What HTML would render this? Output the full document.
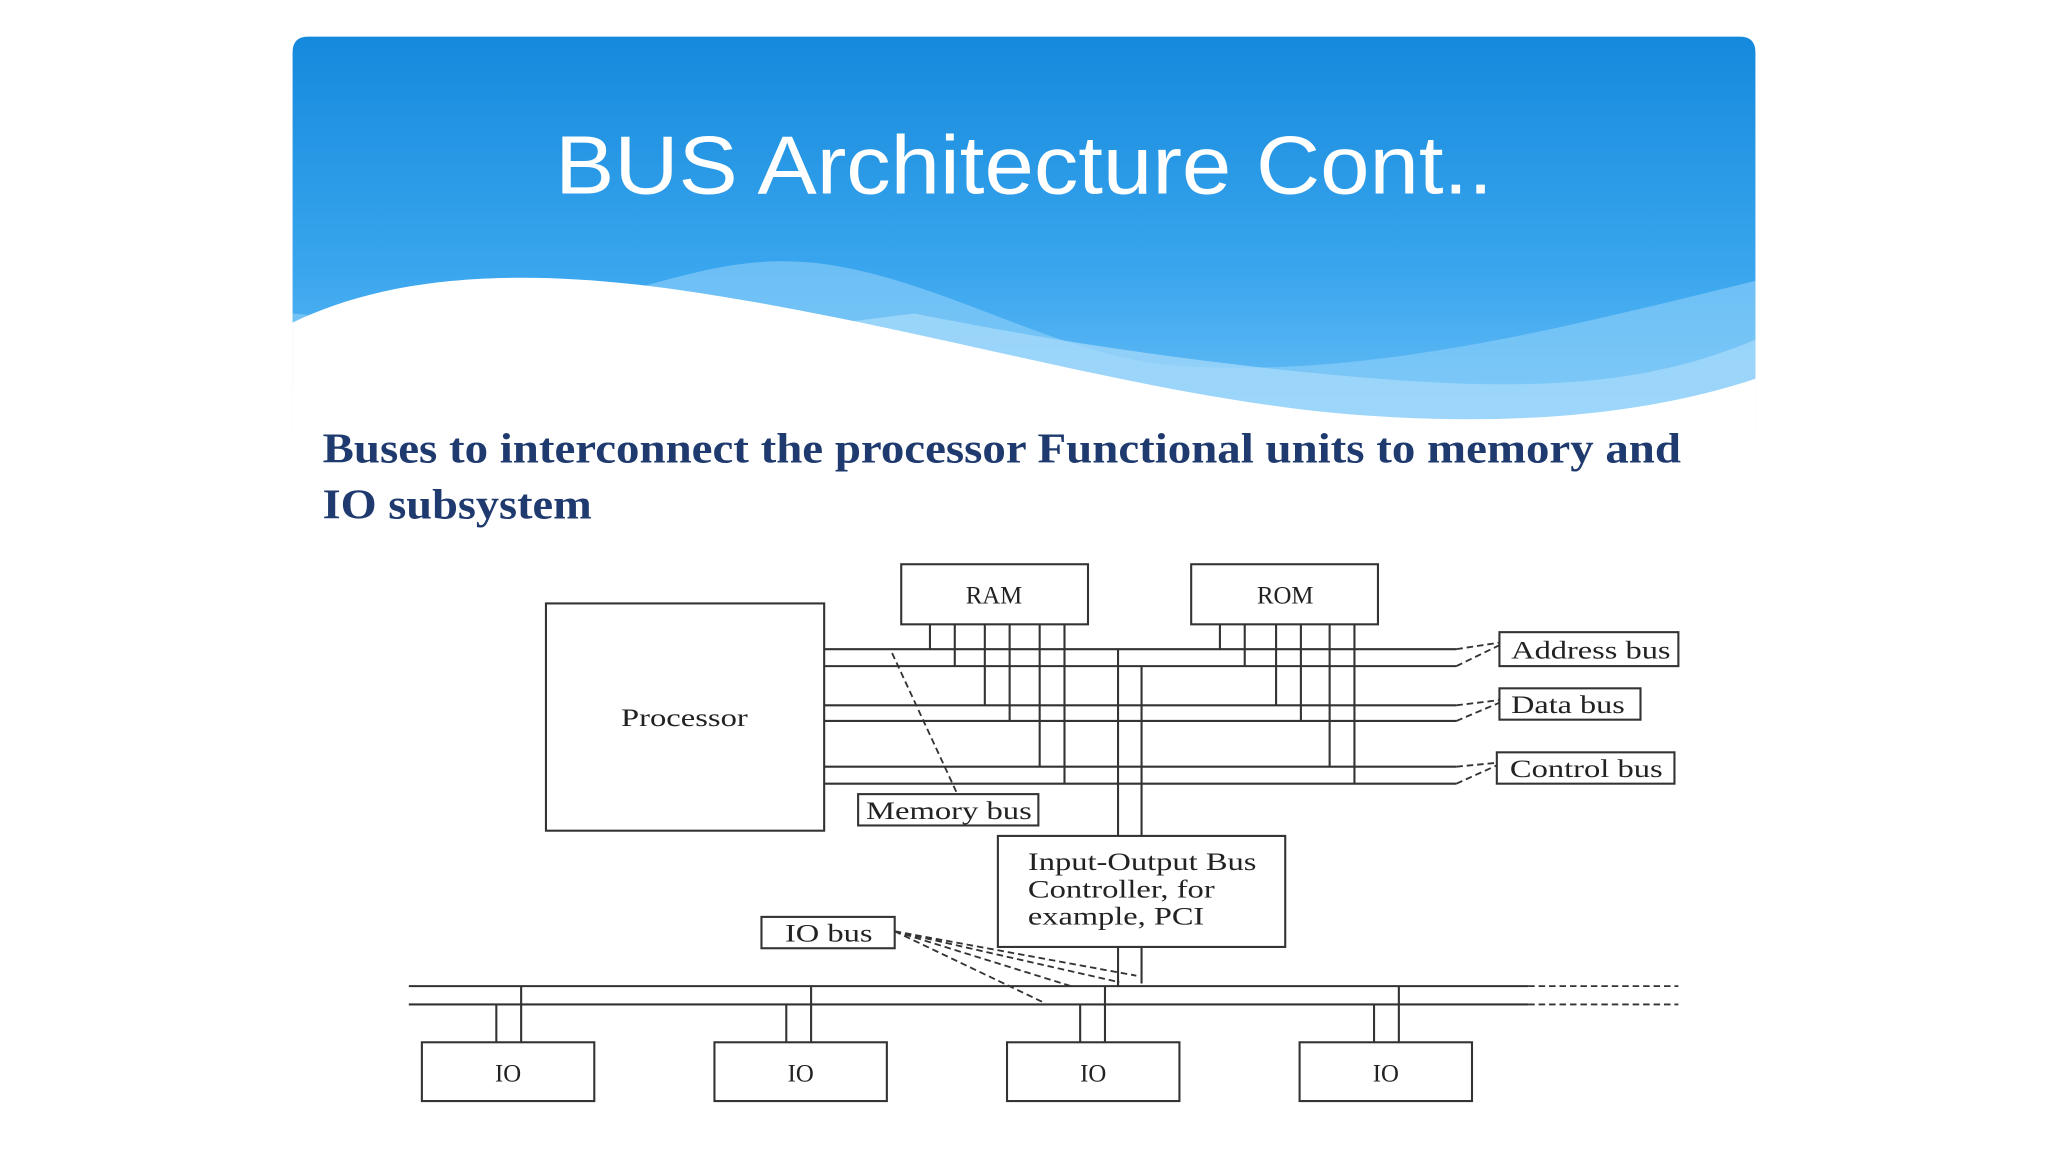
<!DOCTYPE html>
<html><head><style>
html,body{margin:0;padding:0;background:#fff;width:2048px;height:1152px;overflow:hidden}
svg{display:block}
</style></head><body>
<svg width="2048" height="1152" viewBox="0 0 1568 882" xmlns="http://www.w3.org/2000/svg">
<defs>
<linearGradient id="g" x1="0" y1="0" x2="0" y2="1">
<stop offset="0" stop-color="#1589dc"/><stop offset="0.6" stop-color="#3aa6ee"/><stop offset="1" stop-color="#6cc0f6"/>
</linearGradient>
</defs>
<path d="M236,28 H1332 Q1344,28 1344,40 V330 H224 V40 Q224,28 236,28 Z" fill="url(#g)"/>
<path d="M224,330 L1344,330 L1344,215 C1200,250 1050,290 900,280 C800,272 700,200 600,200 C500,200 450,260 224,240 Z" fill="#8fd0fa" opacity="0.6"/>
<path d="M224,330 L1344,330 L1344,260 C1250,300 1150,300 1000,285 C900,275 800,260 700,240 L224,300 Z" fill="#a9dcfb" opacity="0.7"/>
<path d="M224,247 C300,210 400,205 520,222 C700,248 860,300 1020,316 C1150,328 1260,318 1344,290 L1344,345 L224,345 Z" fill="#fff"/>
<text x="784" y="148" text-anchor="middle" font-family="Liberation Sans, sans-serif" font-size="63" fill="#fff" textLength="718" lengthAdjust="spacingAndGlyphs">BUS Architecture Cont..</text>
<g font-family="Liberation Serif, serif" font-weight="bold" font-size="32" fill="#1f3a6e">
<text x="247" y="354" textLength="1040" lengthAdjust="spacingAndGlyphs">Buses to interconnect the processor Functional units to memory and</text>
<text x="247" y="397" textLength="206" lengthAdjust="spacingAndGlyphs">IO subsystem</text>
</g>
<g stroke="#333" stroke-width="1.6" fill="none">
<rect x="418" y="462" width="213" height="174" fill="#fff"/>
<rect x="690" y="432" width="143" height="46"/>
<rect x="912" y="432" width="143" height="46"/>
<path d="M631,497H1115M631,510H1115M631,540H1115M631,552H1115M631,587H1115M631,600H1115"/>
<path d="M712,478V497M731,478V510M754,478V540M773,478V552M796,478V587M815,478V600"/>
<path d="M934,478V497M953,478V510M977,478V540M996,478V552M1018,478V587M1037,478V600"/>
<path d="M856,497V640M874,510V640M856,725V755M874,725V753"/>
<rect x="764" y="640" width="220" height="85" fill="#fff"/>
<rect x="1148" y="484" width="137" height="26"/>
<rect x="1148" y="527" width="108" height="24"/>
<rect x="1146" y="576" width="136" height="24"/>
<rect x="657" y="608" width="138" height="24"/>
<rect x="583" y="702" width="102" height="24"/>
<path d="M313,755H1170M313,769H1170"/>
<path d="M380,769V798M399,755V798M602,769V798M621,755V798M827,769V798M846,755V798M1052,769V798M1071,755V798"/>
<rect x="323" y="798" width="132" height="45"/>
<rect x="547" y="798" width="132" height="45"/>
<rect x="771" y="798" width="132" height="45"/>
<rect x="995" y="798" width="132" height="45"/>
</g>
<g stroke="#333" stroke-width="1.4" fill="none" stroke-dasharray="5,3">
<path d="M683,500L733,608"/>
<path d="M1170,755H1285M1170,769H1285"/>
<path d="M1115,497L1148,492M1115,510L1148,494M1115,540L1148,536M1115,552L1148,538M1115,587L1146,584M1115,600L1146,586"/>
<path d="M685,713L800,768M685,713L820,755M685,713L857,752M685,713L870,747"/>
</g>
<g font-family="Liberation Serif, serif" font-size="19" fill="#222">
<text x="524" y="556" text-anchor="middle" textLength="97" lengthAdjust="spacingAndGlyphs">Processor</text>
<text x="761" y="462" text-anchor="middle">RAM</text>
<text x="984" y="462" text-anchor="middle">ROM</text>
<text x="1157" y="504" textLength="122" lengthAdjust="spacingAndGlyphs">Address bus</text>
<text x="1157" y="546" textLength="87" lengthAdjust="spacingAndGlyphs">Data bus</text>
<text x="1156" y="595" textLength="117" lengthAdjust="spacingAndGlyphs">Control bus</text>
<text x="663" y="627" textLength="127" lengthAdjust="spacingAndGlyphs">Memory bus</text>
<text x="601" y="721" textLength="67" lengthAdjust="spacingAndGlyphs">IO bus</text>
<text x="787" y="666" textLength="175" lengthAdjust="spacingAndGlyphs">Input-Output Bus</text>
<text x="787" y="687" textLength="143" lengthAdjust="spacingAndGlyphs">Controller, for</text>
<text x="787" y="708" textLength="135" lengthAdjust="spacingAndGlyphs">example, PCI</text>
<text x="389" y="828" text-anchor="middle">IO</text>
<text x="613" y="828" text-anchor="middle">IO</text>
<text x="837" y="828" text-anchor="middle">IO</text>
<text x="1061" y="828" text-anchor="middle">IO</text>
</g>
</svg>
</body></html>
